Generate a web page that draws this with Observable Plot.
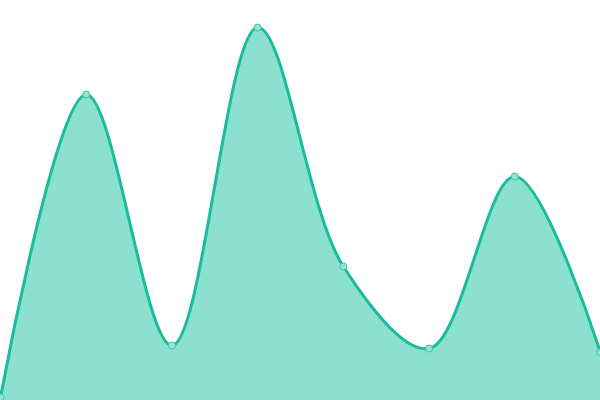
<!DOCTYPE html>
<html>
<head>
<meta charset="utf-8">
<script src="https://cdn.jsdelivr.net/npm/d3@7"></script>
<script src="https://cdn.jsdelivr.net/npm/@observablehq/plot@0.6"></script>
<style>
html, body { margin: 0; padding: 0; background: #fff; overflow: hidden; }
</style>
</head>
<body>
<div id="chart"></div>
<script>
const categories = [0, 1, 2, 3, 4, 5, 6, 7];
const values = [3, 306, 55, 373, 134, 52, 224, 48];

const data = categories.map((c, i) => ({x: c, y: values[i]}));

const chart = Plot.plot({
  width: 600,
  height: 400,
  margin: 0,
  x: {domain: [0, 7], axis: null},
  y: {domain: [0, 400], axis: null},
  marks: [
    Plot.areaY(data, {x: "x", y: "y", curve: "catmull-rom", fill: "#8be0d0", fillOpacity: 1}),
    Plot.lineY(data, {x: "x", y: "y", curve: "catmull-rom", stroke: "#1bbc9b", strokeWidth: 3}),
    Plot.dot(data, {x: "x", y: "y", r: 3.5, fill: "#94e3d4", stroke: "#3cc6a8", strokeWidth: 1})
  ]
});
document.getElementById("chart").appendChild(chart);
</script>
</body>
</html>
